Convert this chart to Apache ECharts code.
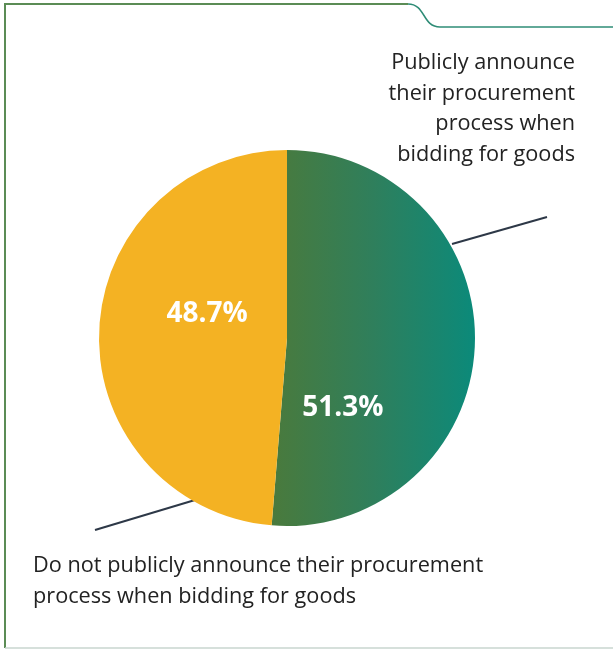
<!DOCTYPE html>
<html>
<head>
<meta charset="utf-8">
<script src="https://cdn.jsdelivr.net/npm/echarts@6/dist/echarts.min.js"></script>
<style>
  html, body { margin: 0; padding: 0; background: #fff; }
  #chart { width: 613px; height: 650px; }
</style>
</head>
<body>
<div id="chart"></div>
<script>
// Share of respondents and their answers
const categories = [
  'Publicly announce their procurement process when bidding for goods',
  'Do not publicly announce their procurement process when bidding for goods'
];
const values = [51.3, 48.7];
const labelLines = [
  ['Publicly announce', 'their procurement', 'process when', 'bidding for goods'],
  ['Do not publicly announce their procurement', 'process when bidding for goods']
];

const FONT = '"Open Sans", "Noto Sans", sans-serif';

// one text element per caption line
function captionLines(lines, x, y0, step, align) {
  return lines.map((t, i) => ({
    type: 'text',
    x: x, y: y0 + i * step,
    style: {
      text: t,
      font: '21.7px ' + FONT,
      fill: '#222222',
      align: align,
      verticalAlign: 'middle'
    }
  }));
}

const chart = echarts.init(document.getElementById('chart'), null, { renderer: 'canvas' });

chart.setOption({
  animation: false,
  backgroundColor: '#ffffff',
  graphic: [
    // frame: left, top with notch, bottom
    {
      type: 'polyline',
      shape: { points: [[5, 648], [5, 4], [408, 4]] },
      style: { stroke: '#5b8c55', lineWidth: 2, fill: null }
    },
    {
      type: 'bezierCurve',
      shape: { x1: 408, y1: 4, cpx1: 426, cpy1: 4, cpx2: 422, cpy2: 27, x2: 440, y2: 27 },
      style: { stroke: '#2e8c76', lineWidth: 1.5, fill: null }
    },
    {
      type: 'line',
      shape: { x1: 440, y1: 27, x2: 613, y2: 27 },
      style: { stroke: '#2e8c76', lineWidth: 1.5 }
    },
    {
      type: 'line',
      shape: { x1: 5, y1: 648, x2: 613, y2: 648 },
      style: { stroke: '#c9d6cf', lineWidth: 1.5 }
    },
    // leader lines
    {
      type: 'line', z: -1,
      shape: { x1: 547, y1: 217, x2: 452, y2: 244 },
      style: { stroke: '#2d3847', lineWidth: 2 }
    },
    {
      type: 'line', z: -1,
      shape: { x1: 95, y1: 530, x2: 195, y2: 500 },
      style: { stroke: '#2d3847', lineWidth: 2 }
    },
    ...captionLines(labelLines[0], 575, 63, 30.5, 'right'),
    ...captionLines(labelLines[1], 33, 566, 31, 'left')
  ],
  series: [{
    type: 'pie',
    center: [287, 338],
    radius: [0, 188],
    startAngle: 90,
    clockwise: true,
    silent: true,
    label: {
      show: true,
      position: 'inside',
      formatter: p => p.value.toFixed(1) + '%',
      color: '#ffffff',
      fontWeight: 'bold',
      fontSize: 28,
      fontFamily: FONT
    },
    labelLine: { show: false },
    data: [
      {
        name: categories[0], value: values[0],
        itemStyle: {
          color: {
            type: 'linear', x: 0, y: 0, x2: 1, y2: 0,
            colorStops: [
              { offset: 0, color: '#4a7a3c' },
              { offset: 0.5, color: '#2f7f5c' },
              { offset: 1, color: '#0b8a7a' }
            ]
          }
        },
        label: { offset: [-41, 66] }
      },
      {
        name: categories[1], value: values[1],
        itemStyle: { color: '#f4b223' },
        label: { offset: [17, -20] }
      }
    ]
  }]
});
</script>
</body>
</html>
